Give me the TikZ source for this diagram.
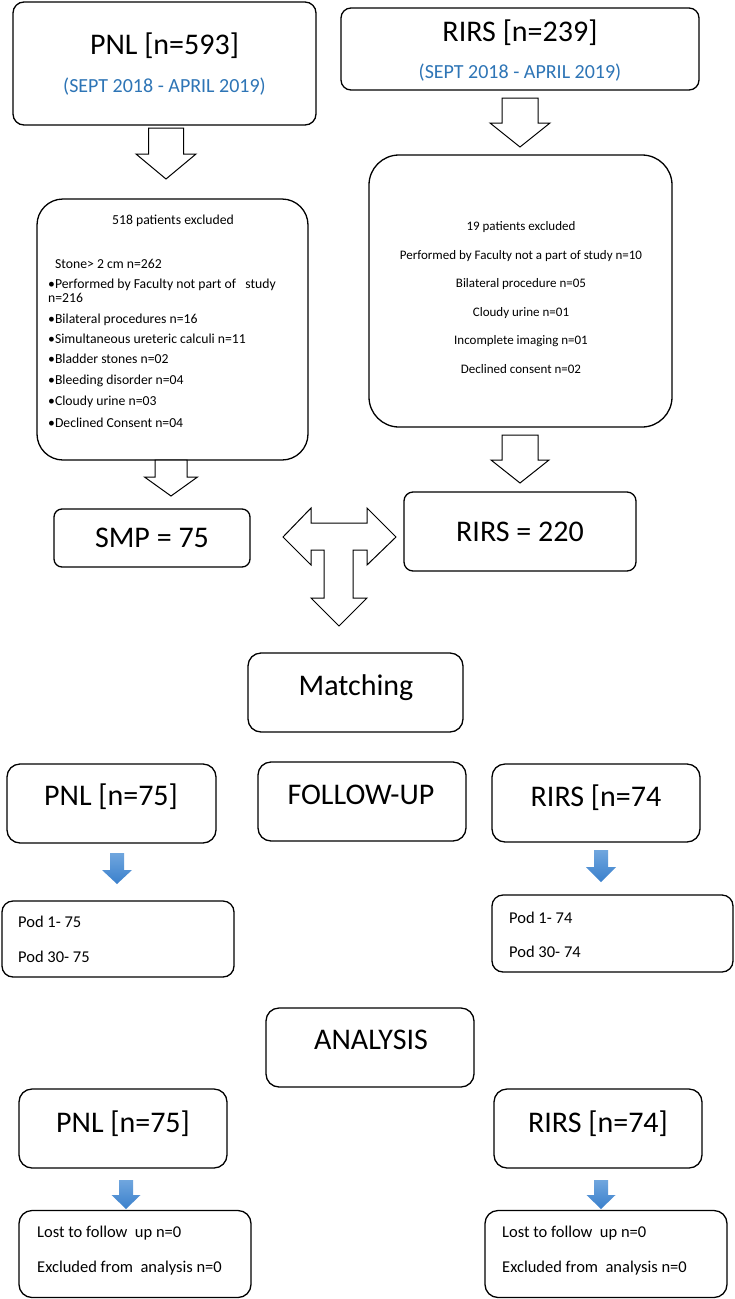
\documentclass[tikz,border=0pt]{standalone}
\usepackage{fontspec}
\setmainfont{Carlito}
\definecolor{datblue}{RGB}{46,117,182}
\definecolor{arrtop}{RGB}{112,166,222}
\definecolor{arrbot}{RGB}{58,128,204}
\newcommand{\hollowdown}[6]{%
  \draw[hollow] (#1-#5,#2) -- (#1+#5,#2) -- (#1+#5,#3) -- (#1+#6,#3) -- (#1,#4) -- (#1-#6,#3) -- (#1-#5,#3) -- cycle;}
\newcommand{\bluedown}[6]{%
  \path[bluearr] (#1-#5,#2) -- (#1+#5,#2) -- (#1+#5,#3) -- (#1+#6,#3) -- (#1,#4) -- (#1-#6,#3) -- (#1-#5,#3) -- cycle;}
\tikzset{
  box/.style={draw=black, line width=1.3pt, rounded corners=#1, fill=white, inner sep=0pt},
  box/.default=11pt,
  hollow/.style={draw=black, line width=1pt, fill=white, line join=miter},
  bluearr/.style={top color=arrtop, bottom color=arrbot, draw=none},
  big/.style={font=\fontsize{30}{36}\selectfont, inner sep=0pt, anchor=base},
  date/.style={font=\fontsize{20}{24}\selectfont, text=datblue, inner sep=0pt, anchor=base},
  exl/.style={font=\fontsize{13.7}{16}\selectfont, inner sep=0pt, anchor=base west},
  exr/.style={font=\fontsize{13}{16}\selectfont, inner sep=0pt, anchor=base},
  pod/.style={font=\fontsize{16.5}{20}\selectfont, inner sep=0pt, anchor=base west},
}
\begin{document}
\begin{tikzpicture}[x=1pt,y=-1pt]
\useasboundingbox (0,0) rectangle (734,1299);
\fill[white] (0,0) rectangle (734,1299);

% top boxes
\node[box=11pt, minimum width=303pt, minimum height=123pt] (b1) at (164.5,63.5) {};
\node[big] (b1t) at (164.5,54.3) {PNL [n=593]};
\node[date] (b1d) at (164.5,92) {(SEPT 2018 - APRIL 2019)};

\node[box=10pt, minimum width=358pt, minimum height=82pt] (b2) at (520,49) {};
\node[big] (b2t) at (520,41.7) {RIRS [n=239]};
\node[date] (b2d) at (520,78) {(SEPT 2018 - APRIL 2019)};

\hollowdown{166}{128}{154}{179}{17.5}{30}
\hollowdown{520}{98}{123}{147}{18}{30}

% exclusion boxes
\node[box=26pt, minimum width=271pt, minimum height=261pt] (ex1) at (172.5,329.5) {};
\node[exl, anchor=base] (e0) at (173,224) {518 patients excluded};
\node[exl] (e1) at (55,268) {Stone> 2 cm n=262};
\node[exl] (e2) at (48,288) {•Performed by Faculty not part of\ \ \ study};
\node[exl] (e3) at (48,302) {n=216};
\node[exl] (e4) at (48,323) {•Bilateral procedures n=16};
\node[exl] (e5) at (48,343) {•Simultaneous ureteric calculi n=11};
\node[exl] (e6) at (48,363) {•Bladder stones n=02};
\node[exl] (e7) at (48,384) {•Bleeding disorder n=04};
\node[exl] (e8) at (48,405) {•Cloudy urine n=03};
\node[exl] (e9) at (48,427) {•Declined Consent n=04};

\node[box=30pt, minimum width=303pt, minimum height=272pt] (ex2) at (520.5,291) {};
\node[exr] (f0) at (521,230) {19 patients excluded};
\node[exr] (f1) at (521,259) {Performed by Faculty not a part of study n=10};
\node[exr] (f2) at (521,287) {Bilateral procedure n=05};
\node[exr] (f3) at (521,316) {Cloudy urine n=01};
\node[exr] (f4) at (521,344) {Incomplete imaging n=01};
\node[exr] (f5) at (521,373) {Declined consent n=02};

\hollowdown{171}{460}{477}{496}{16}{26.5}
\hollowdown{520}{435}{460}{483}{18}{29}

% SMP / RIRS
\node[box=8pt, minimum width=196pt, minimum height=58pt] (smp) at (152,538) {};
\node[big] (smpt) at (152,547) {SMP = 75};
\node[box=9pt, minimum width=232pt, minimum height=79pt] (r220) at (520,531.5) {};
\node[big] (r220t) at (520,541) {RIRS = 220};

% T arrow
\draw[hollow] (283,537) -- (311,508) -- (311,523) -- (367,523) -- (367,508) -- (396,537)
  -- (367,565) -- (367,550) -- (353,550) -- (353,598) -- (367,598) -- (339,626)
  -- (311,598) -- (324,598) -- (324,550) -- (311,550) -- (311,565) -- cycle;

% matching
\node[box=13pt, minimum width=215pt, minimum height=79pt] (match) at (355.5,692.5) {};
\node[big] (matcht) at (356,695) {Matching};

% follow-up row
\node[box=13pt, minimum width=209pt, minimum height=79pt] (p75) at (111.5,803.5) {};
\node[big] (p75t) at (111,805.5) {PNL [n=75]};
\node[box=13pt, minimum width=208pt, minimum height=79pt] (fu) at (362,801.5) {};
\node[big] (fut) at (361,804) {FOLLOW-UP};
\node[box=13pt, minimum width=208pt, minimum height=78pt] (r74) at (596,803) {};
\node[big] (r74t) at (596,806) {RIRS [n=74};

\bluedown{117}{853}{870}{884}{7}{15}
\bluedown{601}{850}{867}{882}{7}{15}

% pod boxes
\node[box=11pt, minimum width=232pt, minimum height=76pt] (pod1) at (118,939) {};
\node[pod] (pod1a) at (18,927) {Pod 1- 75};
\node[pod] (pod1b) at (18,962) {Pod 30- 75};
\node[box=11pt, minimum width=241pt, minimum height=77pt] (pod2) at (612.5,933.5) {};
\node[pod] (pod2a) at (509,923) {Pod 1- 74};
\node[pod] (pod2b) at (509,957) {Pod 30- 74};

% analysis
\node[box=13pt, minimum width=208pt, minimum height=79pt] (ana) at (370,1047.5) {};
\node[big] (anat) at (371,1049.5) {ANALYSIS};

\node[box=13pt, minimum width=208pt, minimum height=79pt] (pB) at (123,1128.5) {};
\node[big] (pBt) at (123,1132) {PNL [n=75]};
\node[box=13pt, minimum width=208pt, minimum height=79pt] (rB) at (598,1128.5) {};
\node[big] (rBt) at (598,1132) {RIRS [n=74]};

\bluedown{126}{1180}{1195}{1209}{7}{14.5}
\bluedown{601}{1180}{1195}{1209}{7}{14.5}

% lost boxes
\node[box=13pt, minimum width=232pt, minimum height=87pt] (l1) at (135,1254) {};
\node[pod] (l1a) at (37,1237) {Lost to follow\ \ up n=0};
\node[pod] (l1b) at (37,1272) {Excluded from\ \ analysis n=0};
\node[box=13pt, minimum width=242pt, minimum height=87pt] (l2) at (606,1254) {};
\node[pod] (l2a) at (502,1237) {Lost to follow\ \ up n=0};
\node[pod] (l2b) at (502,1272) {Excluded from\ \ analysis n=0};
\end{tikzpicture}
\end{document}
